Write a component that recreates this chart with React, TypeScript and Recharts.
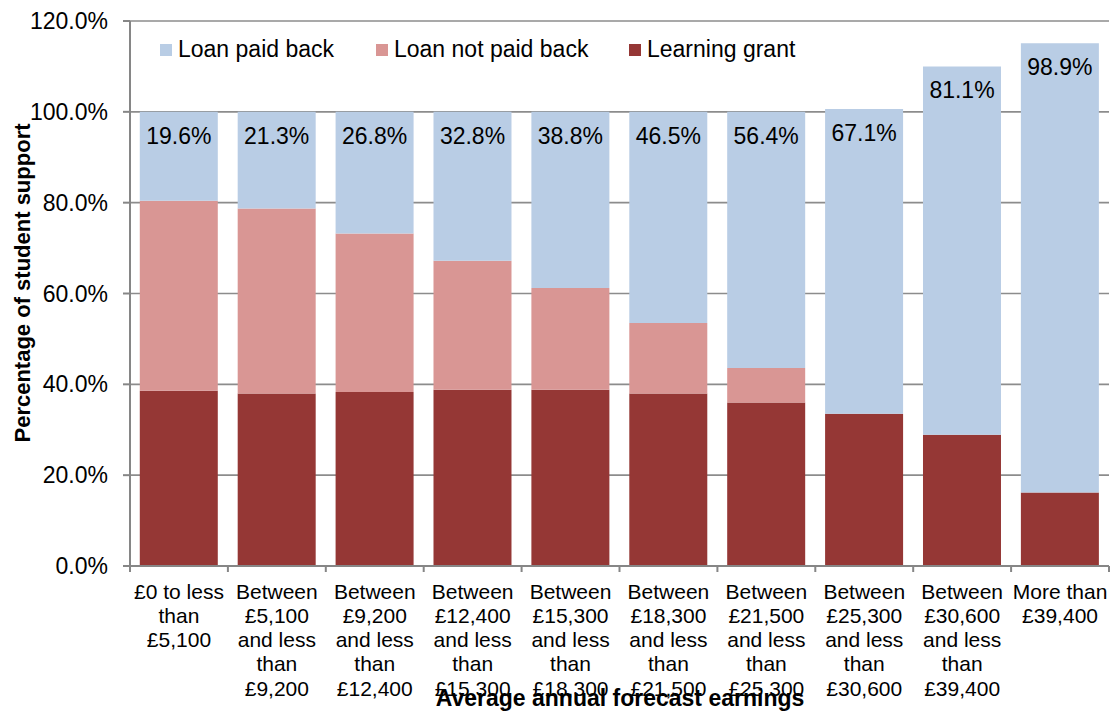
import { BarChart, Bar, XAxis, YAxis, CartesianGrid, Legend, LabelList, Label } from "recharts";

const categories = [
  "£0 to less\nthan\n£5,100",
  "Between\n£5,100\nand less\nthan\n£9,200",
  "Between\n£9,200\nand less\nthan\n£12,400",
  "Between\n£12,400\nand less\nthan\n£15,300",
  "Between\n£15,300\nand less\nthan\n£18,300",
  "Between\n£18,300\nand less\nthan\n£21,500",
  "Between\n£21,500\nand less\nthan\n£25,300",
  "Between\n£25,300\nand less\nthan\n£30,600",
  "Between\n£30,600\nand less\nthan\n£39,400",
  "More than\n£39,400",
];

const learningGrant = [38.6, 38.0, 38.3, 38.8, 38.8, 38.0, 36.0, 33.5, 28.9, 16.2];
const loanNotPaidBack = [41.8, 40.7, 34.9, 28.4, 22.4, 15.5, 7.6, 0, 0, 0];
const loanPaidBack = [19.6, 21.3, 26.8, 32.8, 38.8, 46.5, 56.4, 67.1, 81.1, 98.9];

const yTicks = [0, 20, 40, 60, 80, 100, 120];

const series = [
  { key: "paid", name: "Loan paid back", color: "#B9CDE5" },
  { key: "notPaid", name: "Loan not paid back", color: "#D99694" },
  { key: "grant", name: "Learning grant", color: "#953735" },
];

const data = categories.map((cat, i) => ({
  cat,
  grant: learningGrant[i],
  notPaid: loanNotPaidBack[i],
  paid: loanPaidBack[i],
}));

const FONT = '"Liberation Sans", Arial, sans-serif';
const AXIS = "#868686";
const BAND = (1109 - 130) / categories.length;

function CategoryTick(props: any) {
  const { x, y, payload, index } = props;
  const lines = String(payload.value).split("\n");
  return (
    <g>
      <line x1={x - BAND / 2} x2={x - BAND / 2} y1={y - 8} y2={y - 2} stroke={AXIS} strokeWidth={2} />
      {index === categories.length - 1 && (
        <line x1={x + BAND / 2} x2={x + BAND / 2} y1={y - 8} y2={y - 2} stroke={AXIS} strokeWidth={2} />
      )}
      {lines.map((line, i) => (
        <text
          key={i}
          x={x}
          y={y + 17 + i * 24.3}
          textAnchor="middle"
          dominantBaseline="central"
          fontSize={21}
          fontFamily={FONT}
          fill="#000"
        >
          {line}
        </text>
      ))}
    </g>
  );
}

function PaidLabel(props: any) {
  const { x, y, width, value } = props;
  return (
    <text
      x={x + width / 2}
      y={y + 24}
      textAnchor="middle"
      dominantBaseline="central"
      fontSize={23}
      fontFamily={FONT}
      fill="#000"
    >
      {`${Number(value).toFixed(1)}%`}
    </text>
  );
}

function LegendContent() {
  const offsets = [0, 216, 469];
  return (
    <div style={{ position: "relative", height: 26, fontFamily: FONT, fontSize: 23, color: "#000" }}>
      {series.map((s, i) => (
        <div
          key={s.key}
          style={{ position: "absolute", left: offsets[i], top: 0, display: "flex", alignItems: "center", whiteSpace: "nowrap" }}
        >
          <span style={{ width: 12, height: 12, background: s.color, marginRight: 6, display: "inline-block" }} />
          <span>{s.name}</span>
        </div>
      ))}
    </div>
  );
}

export default function App() {
  return (
    <div style={{ position: "absolute", left: 0, top: 0, width: 1118, height: 713, background: "#fff" }}>
      <BarChart
        width={1118}
        height={713}
        data={data}
        margin={{ top: 21, right: 9, bottom: 0, left: 0 }}
        barCategoryGap="10%"
      >
        <CartesianGrid horizontal vertical={false} stroke="#8C8C8C" strokeWidth={1.6} />
        <XAxis
          dataKey="cat"
          height={147}
          interval={0}
          tickLine={false}
          axisLine={{ stroke: AXIS, strokeWidth: 2 }}
          tick={<CategoryTick />}
        >
          <Label
            content={() => (
              <text
                x={620}
                y={698}
                textAnchor="middle"
                dominantBaseline="central"
                fontSize={23}
                fontWeight="bold"
                fontFamily={FONT}
                fill="#000"
              >
                Average annual forecast earnings
              </text>
            )}
          />
        </XAxis>
        <YAxis
          width={130}
          domain={[0, 120]}
          ticks={yTicks}
          interval={0}
          allowDataOverflow
          tickSize={7}
          tickMargin={15}
          tickLine={{ stroke: AXIS, strokeWidth: 2 }}
          axisLine={{ stroke: AXIS, strokeWidth: 2 }}
          tick={{ fontSize: 23, fontFamily: FONT, fill: "#000" }}
          tickFormatter={(v: number) => `${v.toFixed(1)}%`}
        >
          <Label
            content={() => (
              <text
                x={22}
                y={283}
                transform="rotate(-90 22 283)"
                textAnchor="middle"
                dominantBaseline="central"
                fontSize={22}
                fontWeight="bold"
                fontFamily={FONT}
                fill="#000"
              >
                Percentage of student support
              </text>
            )}
          />
        </YAxis>
        <Legend
          verticalAlign="middle"
          align="center"
          layout="horizontal"
          content={<LegendContent />}
          wrapperStyle={{ top: 36, left: 160, width: 700 }}
        />
        <Bar dataKey="grant" name="Learning grant" stackId="s" fill="#953735" isAnimationActive={false} />
        <Bar dataKey="notPaid" name="Loan not paid back" stackId="s" fill="#D99694" isAnimationActive={false} />
        <Bar dataKey="paid" name="Loan paid back" stackId="s" fill="#B9CDE5" isAnimationActive={false}>
          <LabelList dataKey="paid" content={<PaidLabel />} />
        </Bar>
      </BarChart>
    </div>
  );
}
